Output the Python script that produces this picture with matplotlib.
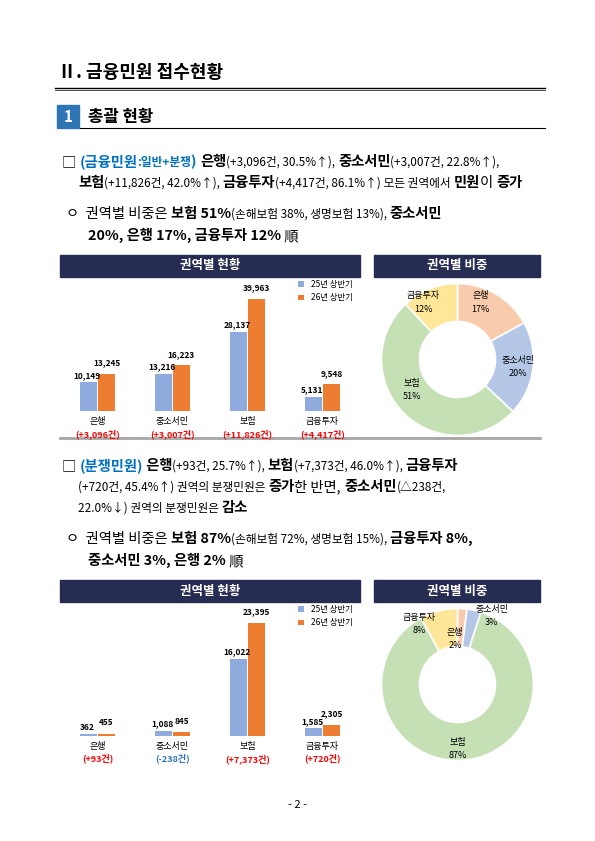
import matplotlib.pyplot as plt
from matplotlib.patches import Rectangle

plt.rcParams['font.family'] = ['Noto Sans CJK KR', 'DejaVu Sans']

# data
sectors = ['은행', '중소서민', '보험', '금융투자']
total_25 = [10149, 13216, 28137, 5131]
total_26 = [13245, 16223, 39963, 9548]
total_diff = ['(+3,096건)', '(+3,007건)', '(+11,826건)', '(+4,417건)']
total_share = [17, 20, 51, 12]

dispute_25 = [362, 1088, 16022, 1585]
dispute_26 = [455, 845, 23395, 2305]
dispute_diff = ['(+93건)', '(-238건)', '(+7,373건)', '(+720건)']
dispute_share = [2, 3, 87, 8]

BLUE = '#8faadc'
ORANGE = '#ed7d31'
NAVY = '#262c52'
PIE_COLORS = ['#f8cbad', '#b4c7e7', '#c5e0b4', '#ffe699']
W, H = 595, 841

fig = plt.figure(figsize=(5.95, 8.41), dpi=100)
page = fig.add_axes([0, 0, 1, 1])
page.set_xlim(0, W)
page.set_ylim(H, 0)
page.axis('off')


def line(y, segs, x=62, size=10.3):
    prev = None
    for s, style in segs:
        color = '#0070c0' if 'c' in style else 'black'
        weight = 'bold' if ('b' in style or 'c' in style) else 'normal'
        fs = size * 0.82 if 's' in style else size
        if prev is None:
            prev = page.text(x, y, s, color=color, fontweight=weight, fontsize=fs, va='baseline')
        else:
            prev = page.annotate(s, xy=(1, 0), xycoords=prev, color=color, fontweight=weight,
                                 fontsize=fs, va='bottom')


# headings
page.text(58, 78, 'Ⅱ. 금융민원 접수현황', fontsize=13, fontweight='bold')
page.plot([55, 545], [88, 88], color='black', lw=1)
page.plot([55, 545], [90, 90], color='black', lw=0.5)
page.add_patch(Rectangle((57, 105), 22, 23, color='#2e75b6'))
page.text(68, 117, '1', color='white', fontsize=11, fontweight='bold', ha='center', va='center')
page.text(88, 117, '총괄 현황', fontsize=12, fontweight='bold', va='center')
page.plot([80, 545], [128, 128], color='black', lw=0.8)

line(166, [('□ ', ''), ('(금융민원', 'c'), (':일반+분쟁', 'cs'), (') ', 'c'), ('은행', 'b'),
           ('(+3,096건, 30.5%↑), ', 's'), ('중소서민', 'b'), ('(+3,007건, 22.8%↑),', 's')])
line(187, [('보험', 'b'), ('(+11,826건, 42.0%↑), ', 's'), ('금융투자', 'b'),
           ('(+4,417건, 86.1%↑) 모든 권역에서 ', 's'), ('민원', 'b'), ('이 ', ''), ('증가', 'b')], x=78)
line(218, [('ㅇ  권역별 비중은 ', ''), ('보험 51%', 'b'), ('(손해보험 38%, 생명보험 13%), ', 's'),
           ('중소서민', 'b')], x=66)
line(240, [('20%, 은행 17%, 금융투자 12%', 'b'), (' 順', '')], x=88)

line(470, [('□ ', ''), ('(분쟁민원)', 'c'), (' 은행', 'b'), ('(+93건, 25.7%↑), ', 's'),
           ('보험', 'b'), ('(+7,373건, 46.0%↑), ', 's'), ('금융투자', 'b')])
line(491, [('(+720건, 45.4%↑) 권역의 분쟁민원은 ', 's'), ('증가', 'b'), ('한 반면, ', ''),
           ('중소서민', 'b'), ('(△238건,', 's')], x=78)
line(512, [('22.0%↓) 권역의 분쟁민원은 ', 's'), ('감소', 'b')], x=78)
line(543, [('ㅇ  권역별 비중은 ', ''), ('보험 87%', 'b'), ('(손해보험 72%, 생명보험 15%), ', 's'),
           ('금융투자 8%,', 'b')], x=66)
line(565, [('중소서민 3%, 은행 2%', 'b'), (' 順', '')], x=88)

page.text(W / 2, 808, '- 2 -', ha='center', fontsize=8)


def chart_block(top, v25, v26, diffs, share, ymax, pie_labels):
    # header bars
    page.add_patch(Rectangle((60, top), 300, 22, color=NAVY))
    page.text(210, top + 11, '권역별 현황', color='white', fontsize=9, fontweight='bold',
              ha='center', va='center')
    page.add_patch(Rectangle((374, top), 166, 22, color=NAVY))
    page.text(457, top + 11, '권역별 비중', color='white', fontsize=9, fontweight='bold',
              ha='center', va='center')

    ax = fig.add_axes([60 / W, 1 - (top + 156) / H, 300 / W, 128 / H])
    x = list(range(len(sectors)))
    ax.bar([i - 0.12 for i in x], v25, width=0.22, color=BLUE, label='25년 상반기')
    ax.bar([i + 0.12 for i in x], v26, width=0.22, color=ORANGE, label='26년 상반기')
    for i in x:
        ax.text(i - 0.14, v25[i] + ymax * 0.02, f'{v25[i]:,}', ha='center', va='bottom',
                fontsize=6, fontweight='bold')
        ax.text(i + 0.12, v26[i] + ymax * 0.05, f'{v26[i]:,}', ha='center', va='bottom',
                fontsize=6, fontweight='bold')
        ax.text(i, -ymax * 0.05, sectors[i], ha='center', va='top', fontsize=6.5)
        ax.text(i, -ymax * 0.14, diffs[i], ha='center', va='top', fontsize=6.5, fontweight='bold',
                color='#2e75b6' if diffs[i].startswith('(-') else '#ff0000')
    ax.set_xlim(-0.5, 3.5)
    ax.set_ylim(0, ymax)
    ax.axis('off')
    ax.legend(loc='upper right', frameon=False, fontsize=6, handlelength=0.7,
              handleheight=0.7, bbox_to_anchor=(1.0, 1.08))

    pax = fig.add_axes([380 / W, 1 - (top + 182) / H, 155 / W, 155 / H])
    pax.pie(share, colors=PIE_COLORS, startangle=90, counterclock=False,
            wedgeprops=dict(width=0.5, edgecolor='white', linewidth=1.2))
    for (lx, ly), name, s in zip(pie_labels, sectors, share):
        pax.text(lx, ly, f'{name}\n{s}%', ha='center', va='center', fontsize=6.5,
                 linespacing=1.6)
    pax.set_xlim(-1.02, 1.02)
    pax.set_ylim(-1.02, 1.02)
    pax.set_aspect('equal')


chart_block(255, total_25, total_26, total_diff, total_share, 45500,
            [(0.3, 0.75), (0.8, -0.1), (-0.6, -0.4), (-0.45, 0.75)])
page.plot([60, 540], [438, 438], color='#a6a6a6', lw=2)
chart_block(580, dispute_25, dispute_26, dispute_diff, dispute_share, 26500,
            [(-0.03, 0.6), (0.45, 0.9), (0.0, -0.85), (-0.5, 0.8)])

fig.savefig('out.png', dpi=100)
